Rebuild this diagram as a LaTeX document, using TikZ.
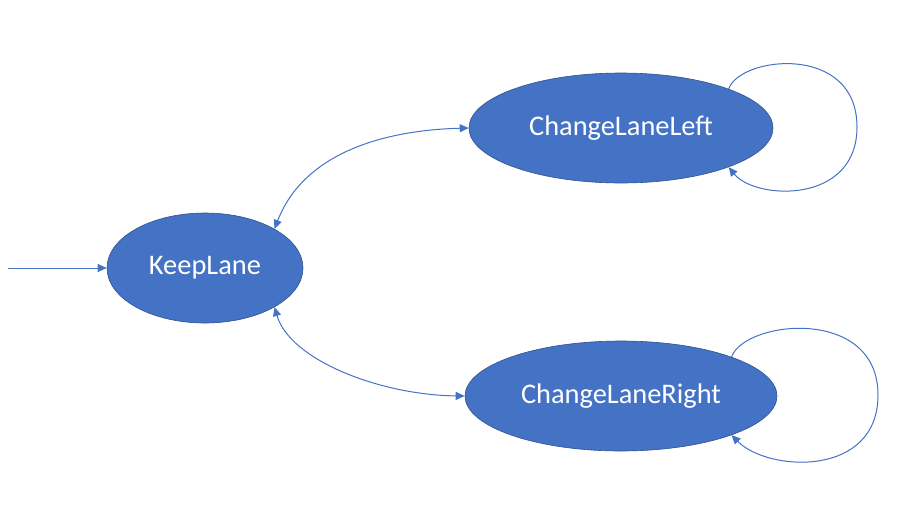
\documentclass[tikz,border=0pt]{standalone}
\usepackage{fontspec}
\setmainfont{Carlito}
\usetikzlibrary{shapes.geometric,arrows.meta}
\definecolor{accent}{HTML}{4472C4}
\definecolor{accentdark}{HTML}{2F528F}
\tikzset{
  state/.style={ellipse, fill=accent, draw=accentdark, line width=0.6pt, inner sep=0pt,
    text=white, font=\fontsize{28.4}{33}\selectfont},
  conn/.style={draw=accent, line width=1pt, -{Triangle[length=9pt,width=8pt]}},
  biconn/.style={draw=accent, line width=1pt, {Triangle[length=9pt,width=8pt]}-{Triangle[length=9pt,width=8pt]}}
}
\begin{document}
\begin{tikzpicture}[x=1pt,y=-1pt]
\useasboundingbox (0,0) rectangle (910,504);
\node[state, minimum width=196pt, minimum height=110pt] (KL) at (205,268) {KeepLane};
\node[state, minimum width=304pt, minimum height=110pt] (CLL) at (621,128) {ChangeLaneLeft};
\node[state, minimum width=312pt, minimum height=110pt] (CLR) at (621,396) {ChangeLaneRight};
\coordinate (start) at (8,268);
\draw[conn] (start) -- (KL.west);
\draw[biconn] (KL.north east) .. controls (305,150) and (390,130) .. (CLL.west);
\draw[biconn] (KL.south east) .. controls (290,360) and (380,395) .. (CLR.west);
\coordinate (lr1) at (857,127);
\coordinate (lr2) at (878,395);
\draw[conn] (CLL.north east) .. controls (740,56) and (857,43) .. (lr1) .. controls (857,205) and (755,200) .. (CLL.south east);
\draw[conn] (CLR.north east) .. controls (745,320) and (878,306) .. (lr2) .. controls (878,478) and (768,472) .. (CLR.south east);
\end{tikzpicture}
\end{document}
